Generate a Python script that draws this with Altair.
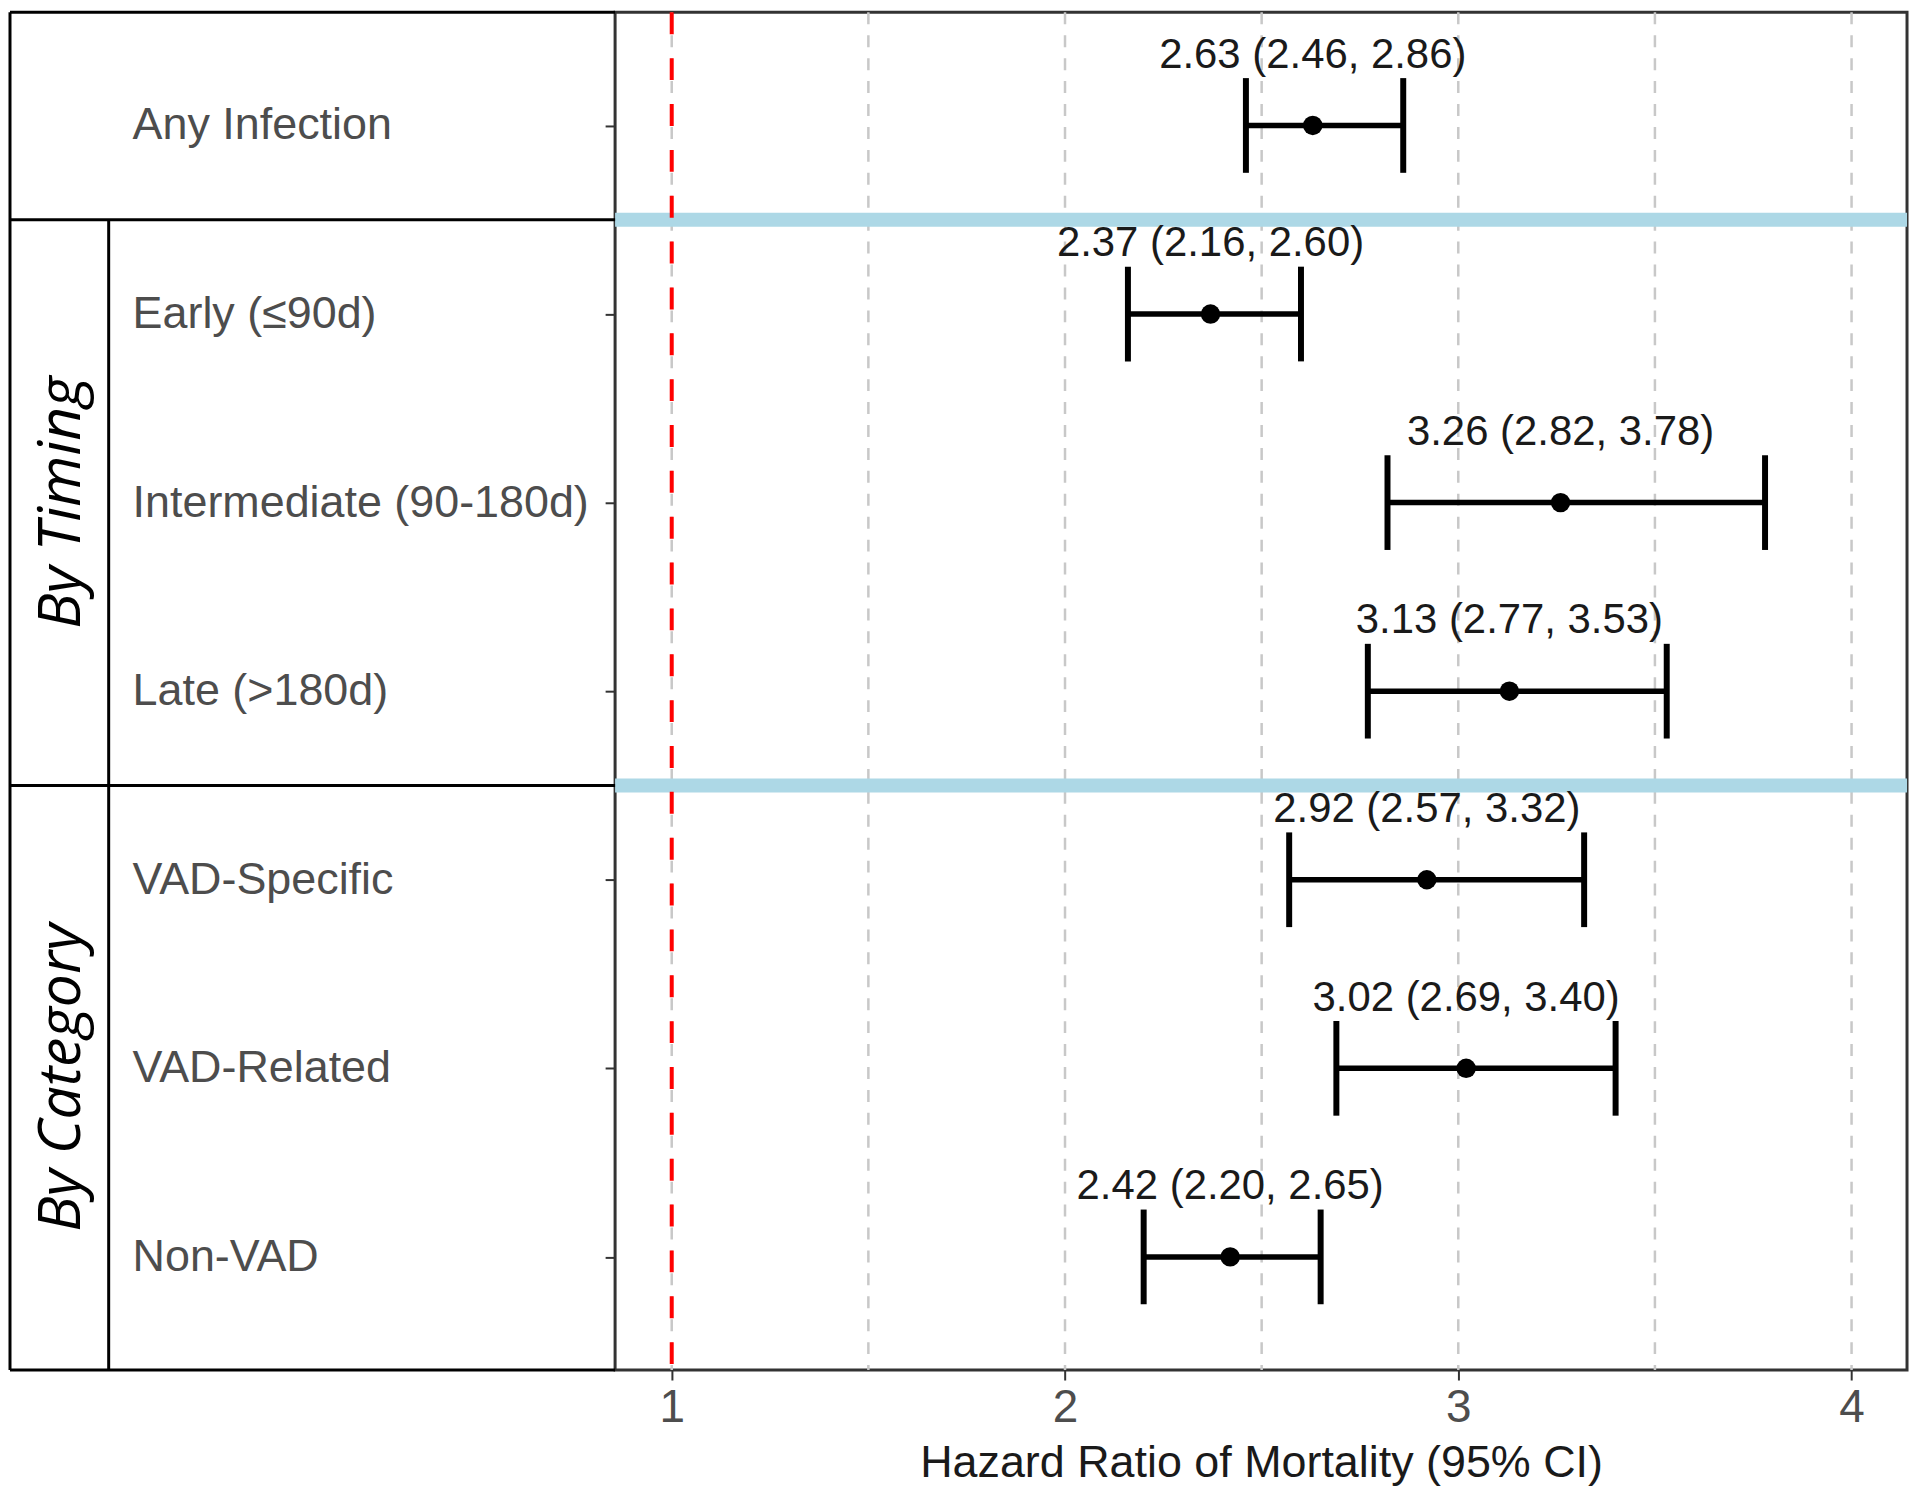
import altair as alt
import pandas as pd

# ---- data ----
labels = ["Any Infection", "Early (\u226490d)", "Intermediate (90-180d)", "Late (>180d)",
          "VAD-Specific", "VAD-Related", "Non-VAD"]
groups = ["", "By Timing", "By Timing", "By Timing",
          "By Category", "By Category", "By Category"]
hr = [2.63, 2.37, 3.26, 3.13, 2.92, 3.02, 2.42]
lo = [2.46, 2.16, 2.82, 2.77, 2.57, 2.69, 2.20]
hi = [2.86, 2.60, 3.78, 3.53, 3.32, 3.40, 2.65]
x_ticks = [1, 2, 3, 4]
grid_values = [1, 1.5, 2, 2.5, 3, 3.5, 4]
ref_line = [1]

# ---- derived tables ----
n = len(labels)
pos = list(range(n))
rows = pd.DataFrame({"label": labels, "group": groups, "hr": hr, "lo": lo, "hi": hi, "pos": pos})
rows["txt"] = [f"{a:.2f} ({b:.2f}, {c:.2f})" for a, b, c in zip(hr, lo, hi)]

y_lo, y_hi = -0.6, n - 1 + 0.6
seps = [i + 0.5 for i in range(n - 1) if groups[i] != groups[i + 1]]
sep_df = pd.DataFrame({"y": seps})
hline_df = pd.DataFrame({"y": [y_lo] + seps + [y_hi]})

grp_rows = []
for g in dict.fromkeys(groups):
    if not g:
        continue
    idx = [i for i, v in enumerate(groups) if v == g]
    a = y_lo if idx[0] == 0 else idx[0] - 0.5
    b = y_hi if idx[-1] == n - 1 else idx[-1] + 0.5
    grp_rows.append({"group": g, "y0": a, "y1": b, "yc": (a + b) / 2})
grp_df = pd.DataFrame(grp_rows)
outer_df = pd.DataFrame({"y0": [y_lo], "y1": [y_hi]})
inner_df = pd.DataFrame({"y0": [grp_df["y0"].min()], "y1": [grp_df["y1"].max()]})
grid_df = pd.DataFrame({"g": grid_values})
ref_df = pd.DataFrame({"ref": ref_line})

# ---- layout constants (pixels relative to plot's left edge) ----
W, H = 1296, 1362
TABLE_LEFT = -607
TABLE_DIV = -508
LABEL_X = -484
GROUP_X = -555

FONT = "Liberation Sans"

xscale = alt.Scale(domain=[0.856, 4.141], nice=False, zero=False)
yscale = alt.Scale(domain=[y_lo, y_hi], reverse=True, nice=False, zero=False)

x_axis = alt.Axis(values=x_ticks, grid=False, format="d",
                  title="Hazard Ratio of Mortality (95% CI)",
                  labelFont=FONT, labelFontSize=46, labelColor="#4D4D4D", labelPadding=6,
                  titleFont=FONT, titleFontSize=45, titleColor="#1A1A1A",
                  titleFontWeight="normal", titlePadding=10,
                  tickSize=10, tickColor="#333333", tickWidth=2, domain=False)
y_axis = alt.Axis(values=pos, labels=False, grid=False, domain=False, title=None,
                  ticks=True, tickSize=10, tickColor="#333333", tickWidth=2)


def X(field):
    return alt.X(field, type="quantitative", scale=xscale, axis=x_axis)


def Y(field):
    return alt.Y(field, type="quantitative", scale=yscale, axis=y_axis)


grid = alt.Chart(grid_df).mark_rule(color="#C8C8C8", strokeWidth=2.5, strokeDash=[12, 11]).encode(
    x=X("g"))

blue = alt.Chart(sep_df).mark_rule(color="#ADD8E6", strokeWidth=14).encode(y=Y("y"))

red = alt.Chart(ref_df).mark_rule(color="#FF0000", strokeWidth=4, strokeDash=[22, 24]).encode(
    x=X("ref"))

hlines = alt.Chart(hline_df).mark_rule(color="black", strokeWidth=3).encode(
    y=Y("y"), x=alt.value(TABLE_LEFT), x2=alt.value(0))
outer = alt.Chart(outer_df).mark_rule(color="black", strokeWidth=3).encode(
    x=alt.value(TABLE_LEFT), y=Y("y0"), y2="y1")
inner = alt.Chart(inner_df).mark_rule(color="black", strokeWidth=3).encode(
    x=alt.value(TABLE_DIV), y=Y("y0"), y2="y1")

base = alt.Chart(rows)
err = base.mark_rule(color="black", strokeWidth=5.5).encode(x=X("lo"), x2="hi", y=Y("pos"))
cap_lo = base.mark_tick(orient="vertical", size=95, thickness=6, color="black", opacity=1).encode(
    x=X("lo"), y=Y("pos"))
cap_hi = base.mark_tick(orient="vertical", size=95, thickness=6, color="black", opacity=1).encode(
    x=X("hi"), y=Y("pos"))
pts = base.mark_circle(size=380, color="black", opacity=1).encode(x=X("hr"), y=Y("pos"))
ann = base.mark_text(font=FONT, fontSize=42, color="#1A1A1A", baseline="alphabetic",
                     align="center", dy=-58).encode(x=X("hr"), y=Y("pos"), text="txt")

row_lab = base.mark_text(font=FONT, fontSize=45, color="#4D4D4D", align="left",
                         baseline="middle").encode(
    x=alt.value(LABEL_X), y=Y("pos"), text="label")

grp_lab = alt.Chart(grp_df).mark_text(font="Open Sans", fontStyle="italic", fontSize=59,
                                      color="black", angle=270, align="center",
                                      baseline="middle").encode(
    x=alt.value(GROUP_X), y=Y("yc"), text="group")

chart = alt.layer(grid, blue, red, hlines, outer, inner, err, cap_lo, cap_hi, pts, ann,
                  row_lab, grp_lab).properties(
    width=W, height=H, padding=0, background="white"
).configure_view(stroke="#333333", strokeWidth=3)

chart.save("out.html", embed_options={"renderer": "svg", "actions": False})
